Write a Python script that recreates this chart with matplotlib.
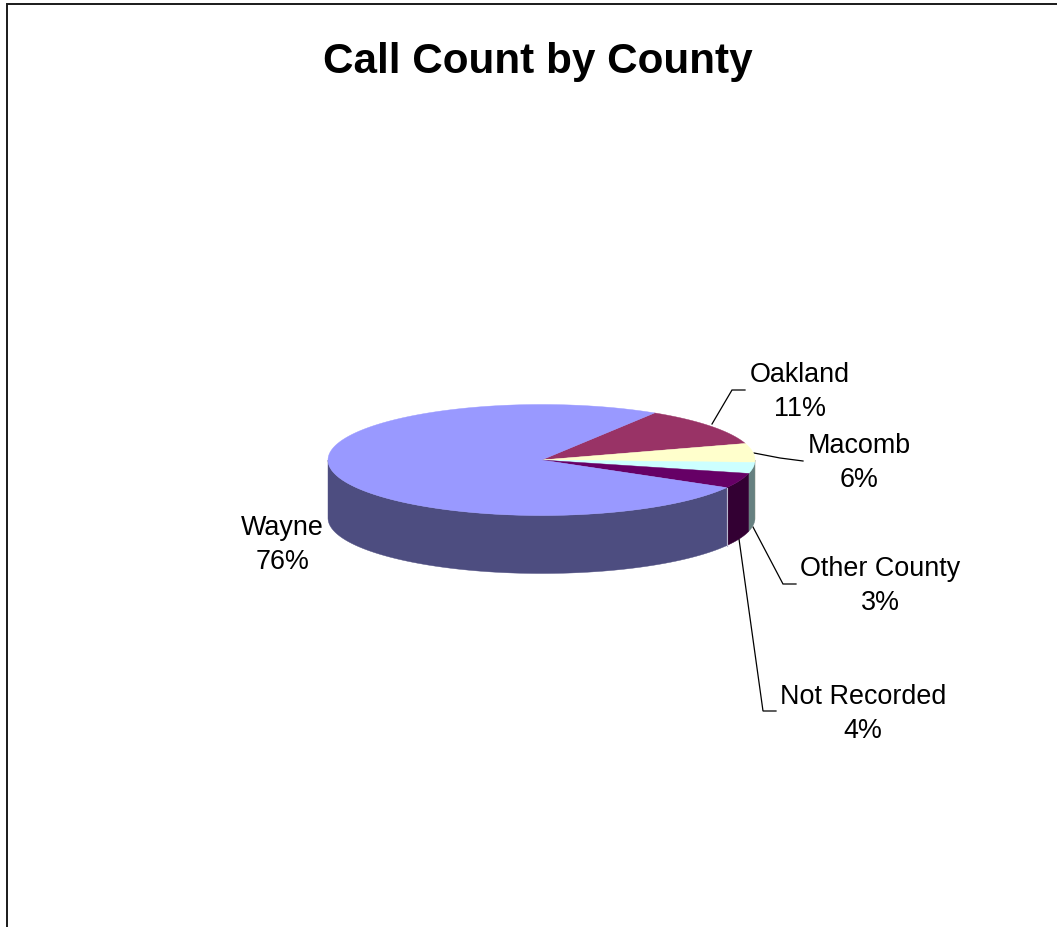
import numpy as np
import matplotlib
matplotlib.use("Agg")
import matplotlib.pyplot as plt
from matplotlib.patches import Polygon

plt.rcParams['font.family'] = ['Liberation Sans', 'DejaVu Sans']

# Clockwise from the Wayne/Oakland boundary
counties = ["Oakland", "Macomb", "Other County", "Not Recorded", "Wayne"]
shares = [11.3, 5.5, 3.2, 4.4, 75.6]
percent_labels = ["11%", "6%", "3%", "4%", "76%"]
top_colors = ["#993366", "#FFFFCC", "#CCFFFF", "#660066", "#9999FF"]
side_colors = ["#4D1933", "#808066", "#668080", "#330033", "#4D4D80"]
label_xy = [(799.5, 392), (859, 463), (880, 586), (863, 714), (282.5, 545)]
leaders = [
    [(712, 425), (732, 391), (745, 391)],
    [(754, 454), (780, 459), (803, 462)],
    [(753, 528), (783, 585), (796, 585)],
    [(739, 540), (763, 712), (776, 712)],
]
title = "Call Count by County"

CX, CY, RX, RY, DEPTH = 541.5, 461, 213.5, 55.5, 58
START = 58.0

fig = plt.figure(figsize=(10.57, 9.28), dpi=100, facecolor="white")
ax = fig.add_axes([0, 0, 1, 1])
ax.set_xlim(0, 1057)
ax.set_ylim(928, 0)
ax.axis("off")

# chart frame
ax.plot([7, 7, 1057], [928, 4.5, 4.5], color="#1a1a1a", lw=1.4, solid_joinstyle="miter")


def rim(a):
    r = np.radians(a)
    return CX + RX * np.cos(r), CY - RY * np.sin(r)


edges = START - np.cumsum([0] + shares) * 3.6

# side walls (only the front half of the rim shows)
for i in range(len(shares)):
    a = np.linspace(edges[i], edges[i + 1], 400)
    a = a[np.sin(np.radians(a)) <= 0]
    if len(a) < 2:
        continue
    x, y = rim(a)
    pts = np.r_[np.c_[x, y], np.c_[x[::-1], y[::-1] + DEPTH]]
    ax.add_patch(Polygon(pts, closed=True, fc=side_colors[i], ec=side_colors[i], lw=0.3, zorder=2))

# pale seam between the Not Recorded and Wayne walls
sx, sy = rim(edges[4])
ax.plot([sx, sx], [sy, sy + DEPTH], color="#B8B8D0", lw=0.8, zorder=3)

# top faces
for i in range(len(shares)):
    a = np.linspace(edges[i], edges[i + 1], 400)
    x, y = rim(a)
    pts = np.r_[[(CX, CY)], np.c_[x, y]]
    ax.add_patch(Polygon(pts, closed=True, fc=top_colors[i], ec=top_colors[i], lw=0.3, zorder=4))

for seg in leaders:
    xs, ys = zip(*seg)
    ax.plot(xs, ys, color="black", lw=0.9, zorder=1, solid_joinstyle="miter")

for name, pct, (x, y) in zip(counties, percent_labels, label_xy):
    ax.text(x, y, f"{name}\n{pct}", ha="center", va="center", fontsize=19.4,
            linespacing=1.42, color="black", zorder=5)

ax.text(538, 62, title, ha="center", va="center", fontsize=30.4, fontweight="bold", color="black")

fig.savefig("out.png", dpi=100, facecolor="white")
